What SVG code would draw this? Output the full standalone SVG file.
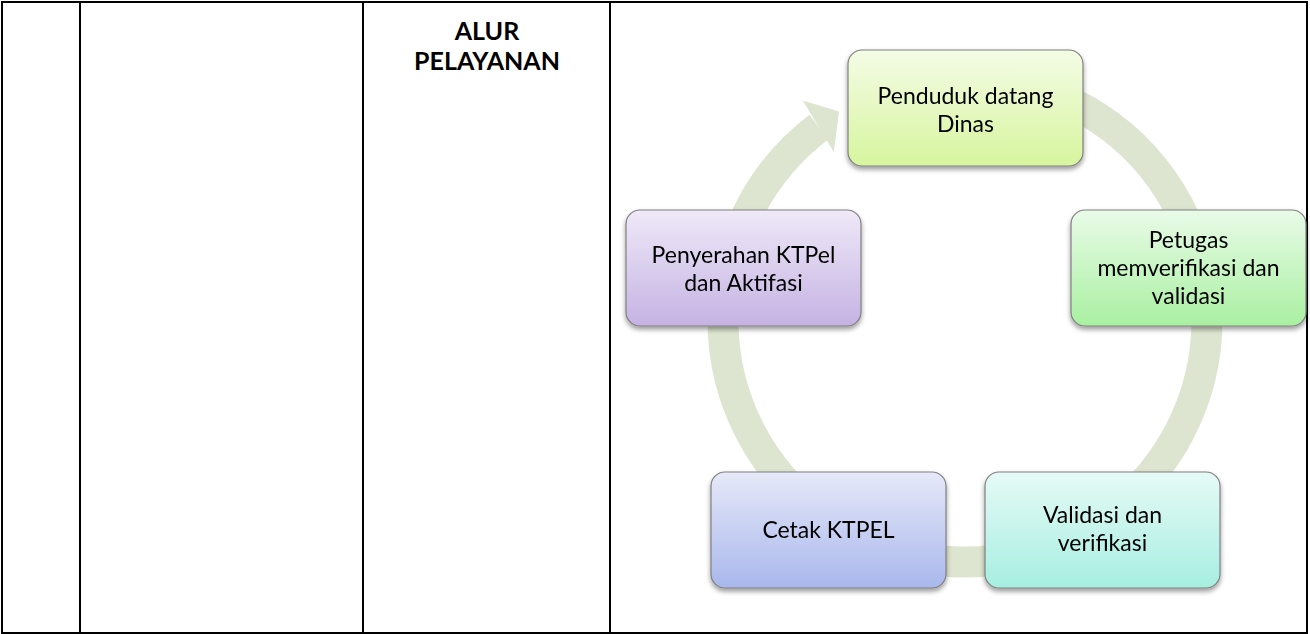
<svg xmlns="http://www.w3.org/2000/svg" width="1310" height="634" viewBox="0 0 1310 634">
<style>
.tbl{fill:none;stroke:#000;stroke-width:2}
.title{font-family:Lato,"Liberation Sans",sans-serif;font-weight:bold;font-size:25px;fill:#000;text-anchor:middle}
.lbl{font-family:Lato,"Liberation Sans",sans-serif;font-size:23px;fill:#000;text-anchor:middle}
.box{stroke:#808080;stroke-width:1.2}
.ring{fill:none;stroke:#dde5d0;stroke-width:31}
</style>
<defs>
<filter id="sh" x="-10%" y="-10%" width="120%" height="130%">
<feGaussianBlur in="SourceAlpha" stdDeviation="2.5"/>
<feOffset dx="0" dy="3" result="b"/>
<feComponentTransfer><feFuncA type="linear" slope="0.4"/></feComponentTransfer>
<feMerge><feMergeNode/><feMergeNode in="SourceGraphic"/></feMerge>
</filter>
<linearGradient id="g1" x1="0" y1="0" x2="0" y2="1"><stop offset="0" stop-color="#f4fce6"/><stop offset="1" stop-color="#d7f59e"/></linearGradient>
<linearGradient id="g2" x1="0" y1="0" x2="0" y2="1"><stop offset="0" stop-color="#e9fbe8"/><stop offset="1" stop-color="#a9f0a1"/></linearGradient>
<linearGradient id="g3" x1="0" y1="0" x2="0" y2="1"><stop offset="0" stop-color="#e6faf6"/><stop offset="1" stop-color="#a6eee1"/></linearGradient>
<linearGradient id="g4" x1="0" y1="0" x2="0" y2="1"><stop offset="0" stop-color="#e6e9f9"/><stop offset="1" stop-color="#a9b7ec"/></linearGradient>
<linearGradient id="g5" x1="0" y1="0" x2="0" y2="1"><stop offset="0" stop-color="#efe9f8"/><stop offset="1" stop-color="#c5b2e3"/></linearGradient>
</defs>
<rect width="1310" height="634" fill="#fff"/>
<g id="table">
<rect class="tbl" x="2" y="2" width="1305" height="631"/>
<line class="tbl" x1="80" y1="2" x2="80" y2="633"/>
<line class="tbl" x1="363" y1="2" x2="363" y2="633"/>
<line class="tbl" x1="610" y1="2" x2="610" y2="633"/>
</g>
<g id="title">
<text class="title" x="487" y="40">ALUR</text>
<text class="title" x="487" y="70">PELAYANAN</text>
</g>
<g id="connectors">
<path class="ring" d="M986.1,78.9 A242 242 0 1 1 818.8,127.1"/>
<polygon points="802.8,100.4 839,111.5 833.8,152" fill="#dde5d0"/>
</g>
<g id="n1" filter="url(#sh)">
<rect class="box" x="848" y="50" width="235" height="116" rx="14" fill="url(#g1)"/>
<text class="lbl" x="965.5" y="104">Penduduk datang</text>
<text class="lbl" x="965.5" y="132">Dinas</text>
</g>
<g id="n2" filter="url(#sh)">
<rect class="box" x="1071" y="210" width="235" height="116" rx="14" fill="url(#g2)"/>
<text class="lbl" x="1188.5" y="248">Petugas</text>
<text class="lbl" x="1188.5" y="276">memverifikasi dan</text>
<text class="lbl" x="1188.5" y="304">validasi</text>
</g>
<g id="n3" filter="url(#sh)">
<rect class="box" x="985" y="472" width="235" height="116" rx="14" fill="url(#g3)"/>
<text class="lbl" x="1102.5" y="523">Validasi dan</text>
<text class="lbl" x="1102.5" y="551">verifikasi</text>
</g>
<g id="n4" filter="url(#sh)">
<rect class="box" x="711" y="472" width="235" height="116" rx="14" fill="url(#g4)"/>
<text class="lbl" x="828.5" y="538">Cetak KTPEL</text>
</g>
<g id="n5" filter="url(#sh)">
<rect class="box" x="626" y="210" width="235" height="116" rx="14" fill="url(#g5)"/>
<text class="lbl" x="743.5" y="263">Penyerahan KTPel</text>
<text class="lbl" x="743.5" y="291">dan Aktifasi</text>
</g>
</svg>
